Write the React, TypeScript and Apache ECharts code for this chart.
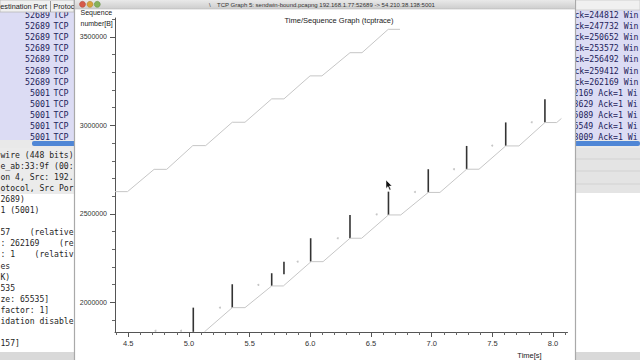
import React, { useEffect, useRef } from "react";
import * as echarts from "echarts";

// ---- chart data (time [s], sequence number [B]) ----
const windowLine: [number, number][] = [
  [4.391, 2626000], [4.494, 2626000], [4.713, 2752000], [4.817, 2752000],
  [5.032, 2886000], [5.138, 2886000], [5.357, 3018000], [5.462, 3018000],
  [5.682, 3150000], [5.783, 3150000], [5.998, 3280000], [6.096, 3280000],
  [6.327, 3411000], [6.426, 3411000], [6.642, 3543000], [6.739, 3543000],
];
const ackLine: [number, number][] = [
  [5.128, 1834000], [5.357, 1970600], [5.462, 1970600], [5.682, 2093200],
  [5.778, 2093200], [6.006, 2230500], [6.105, 2230500], [6.327, 2362700],
  [6.423, 2362700], [6.644, 2494300], [6.745, 2494300], [6.972, 2621500],
  [7.068, 2621500], [7.288, 2752600], [7.39, 2752600], [7.61, 2884200],
  [7.719, 2884200], [7.933, 3016400], [8.03, 3016400], [8.069, 3039500],
];
// [time, seqStart, seqEnd]
const segments: [number, number, number][] = [
  [5.036, 1834000, 1970600], [5.357, 1970600, 2102800], [5.682, 2093200, 2165000],
  [5.783, 2159300, 2230500], [6.003, 2230500, 2362700], [6.327, 2362700, 2494300],
  [6.644, 2494300, 2626000], [6.972, 2621500, 2752600], [7.288, 2752600, 2884200],
  [7.61, 2884200, 3017000], [7.933, 3016400, 3148000],
];
const sackDots: [number, number][] = [
  [4.725, 1840000], [4.935, 1840000], [5.256, 1970600], [5.572, 2099000],
  [5.896, 2230500], [6.226, 2362700], [6.547, 2498000], [6.862, 2624000],
  [7.184, 2752600], [7.499, 2886000], [7.824, 3018000],
];
const xMajor = [4.5, 5.0, 5.5, 6.0, 6.5, 7.0, 7.5, 8.0];
const yMajor = [2000000, 2500000, 3000000, 3500000];
const xMinor = [4.4, 4.6, 4.7, 4.8, 4.9, 5.1, 5.2, 5.3, 5.4, 5.6, 5.7, 5.8, 5.9, 6.1, 6.2, 6.3, 6.4, 6.6, 6.7, 6.8, 6.9, 7.1, 7.2, 7.3, 7.4, 7.6, 7.7, 7.8, 7.9, 8.1];
const yMinor = [1900000, 2100000, 2200000, 2300000, 2400000, 2600000, 2700000, 2800000, 2900000, 3100000, 3200000, 3300000, 3400000, 3600000];

// ---- background (Wireshark window) texts ----
const leftPorts = ["52689", "52689", "52689", "52689", "52689", "52689", "52689", "5001", "5001", "5001", "5001", "5001"];
const rightRows = [
  "Ack=244812 Win", "Ack=247732 Win", "Ack=250652 Win",
  "Ack=253572 Win", "Ack=256492 Win", "Ack=259412 Win",
  "Ack=262169 Win", "Seq=262169 Ack=1 Wi", "Seq=263629 Ack=1 Wi",
  "Seq=265089 Ack=1 Wi", "Seq=266549 Ack=1 Wi", "Seq=268009 Ack=1 Wi",
];
const detailLines = [
  "wire (448 bits)", "e_ab:33:9f (00:", "on 4, Src: 192.", "otocol, Src Por",
  "2689)", "1 (5001)", "", "57    (relative", ": 262169    (re", ": 1    (relativ",
  "es", "K)", "535", "ze: 65535]", "factor: 1]", "idation disable", "", "157]",
];
const windowTitle = "TCP Graph 5: sendwin-bound.pcapng 192.168.1.77:52689 -> 54.210.38.138:5001";

const MONO = "DejaVu Sans Mono";
const SANS = "Liberation Sans";

function buildGraphics(): any[] {
  const g: any[] = [];
  // packet list backgrounds
  g.push({ type: "rect", z: -30, shape: { x: 0, y: 0, width: 74, height: 141 }, style: { fill: "#dcdcf4" } });
  g.push({ type: "rect", z: -30, shape: { x: 575, y: 0, width: 65, height: 141 }, style: { fill: "#dcdcf4" } });
  leftPorts.forEach((p, i) => {
    const y = 15 + 11.1 * i;
    g.push({ type: "text", z: -29, x: 50, y, style: { text: p, font: `8.3px '${MONO}'`, fill: "#23235a", align: "right", verticalAlign: "middle" } });
    g.push({ type: "text", z: -29, x: 53.5, y, style: { text: "TCP", font: `8.3px '${MONO}'`, fill: "#23235a", align: "left", verticalAlign: "middle" } });
  });
  rightRows.forEach((r, i) => {
    const y = 15 + 11.1 * i;
    const x = r.startsWith("Seq") ? 544 : 569.5;
    g.push({ type: "text", z: -29, x, y, style: { text: r, font: `8.2px '${MONO}'`, fill: "#23235a", align: "left", verticalAlign: "middle" } });
  });
  // headers
  g.push({ type: "rect", z: -28, shape: { x: 0, y: 0, width: 74, height: 12 }, style: { fill: "#f0f0f0", stroke: "#b8b8b8", lineWidth: 0.8 } });
  g.push({ type: "rect", z: -28, shape: { x: 575, y: 0, width: 65, height: 10 }, style: { fill: "#f0f0f0", stroke: "#c8c8c8", lineWidth: 0.8 } });
  g.push({ type: "text", z: -27, x: 0.3, y: 6.5, style: { text: "estination Port", font: `7.3px '${SANS}'`, fill: "#222", verticalAlign: "middle" } });
  g.push({ type: "line", z: -27, shape: { x1: 50.5, y1: 1, x2: 50.5, y2: 12 }, style: { stroke: "#999", lineWidth: 1 } });
  g.push({ type: "text", z: -27, x: 53.3, y: 6.5, style: { text: "Protoc", font: `7.3px '${SANS}'`, fill: "#222", verticalAlign: "middle" } });
  // scroll bar band
  g.push({ type: "rect", z: -28, shape: { x: 0, y: 140, width: 640, height: 8 }, style: { fill: "#e9e9e9" } });
  g.push({ type: "rect", z: -27, shape: { x: 32, y: 141, width: 608, height: 5, r: 2 }, style: { fill: "#4f86d6" } });
  // detail pane left
  g.push({ type: "rect", z: -28, shape: { x: 0, y: 148, width: 74, height: 205 }, style: { fill: "#ffffff" } });
  g.push({ type: "rect", z: -28, shape: { x: 0, y: 148, width: 74, height: 46 }, style: { fill: "#ebebeb" } });
  detailLines.forEach((t, i) => {
    if (!t) return;
    g.push({ type: "text", z: -27, x: 0.5, y: 155 + 11.05 * i, style: { text: t, font: `8.1px '${MONO}'`, fill: "#1e1e1e", verticalAlign: "middle" } });
  });
  g.push({ type: "rect", z: -28, shape: { x: 0, y: 352, width: 640, height: 8 }, style: { fill: "#d9d9d9" } });
  // right pane
  g.push({ type: "rect", z: -28, shape: { x: 575, y: 148, width: 65, height: 45 }, style: { fill: "#e4e4e4" } });
  g.push({ type: "line", z: -27, shape: { x1: 575, y1: 159, x2: 640, y2: 159 }, style: { stroke: "#d2d2d2", lineWidth: 1 } });
  g.push({ type: "line", z: -27, shape: { x1: 575, y1: 171, x2: 640, y2: 171 }, style: { stroke: "#d2d2d2", lineWidth: 1 } });
  g.push({ type: "line", z: -27, shape: { x1: 575, y1: 184, x2: 640, y2: 184 }, style: { stroke: "#d2d2d2", lineWidth: 1 } });
  g.push({ type: "rect", z: -28, shape: { x: 575, y: 193, width: 65, height: 159 }, style: { fill: "#ffffff" } });

  // TCP graph window
  g.push({ type: "rect", z: -20, shape: { x: 74.5, y: -1, width: 501, height: 363 }, style: { fill: "#ffffff", stroke: "#a9a9a9", lineWidth: 1.2 } });
  g.push({
    type: "rect", z: 5, shape: { x: 75, y: 0, width: 500, height: 9 },
    style: { fill: new echarts.graphic.LinearGradient(0, 0, 0, 1, [{ offset: 0, color: "#e9e9e9" }, { offset: 1, color: "#cdcdcd" }]) },
  });
  g.push({ type: "line", z: 5, shape: { x1: 75, y1: 9, x2: 575, y2: 9 }, style: { stroke: "#b9b9b9", lineWidth: 0.6 } });
  g.push({ type: "circle", z: 6, shape: { cx: 82.5, cy: 4.3, r: 3 }, style: { fill: "#d65a4a", stroke: "#a84236", lineWidth: 0.5 } });
  g.push({ type: "circle", z: 6, shape: { cx: 90, cy: 4.3, r: 3 }, style: { fill: "#d8a23c", stroke: "#a87a28", lineWidth: 0.5 } });
  g.push({ type: "circle", z: 6, shape: { cx: 97.3, cy: 4.3, r: 3 }, style: { fill: "#86b25a", stroke: "#5f8a3c", lineWidth: 0.5 } });
  g.push({ type: "text", z: 6, x: 209, y: 4.6, style: { text: "\\", font: `6px '${SANS}'`, fill: "#444", verticalAlign: "middle" } });
  g.push({ type: "text", z: 6, x: 326, y: 4.6, style: { text: windowTitle, font: `6px '${SANS}'`, fill: "#333", align: "center", verticalAlign: "middle" } });

  // chart texts
  g.push({ type: "text", z: 6, x: 339, y: 20.5, style: { text: "Time/Sequence Graph (tcptrace)", font: `7.5px '${SANS}'`, fill: "#222", align: "center", verticalAlign: "middle" } });
  g.push({ type: "text", z: 6, x: 80.5, y: 12.3, style: { text: "Sequence", font: `7px '${SANS}'`, fill: "#222", verticalAlign: "middle" } });
  g.push({ type: "text", z: 6, x: 80.5, y: 23.3, style: { text: "number[B]", font: `7px '${SANS}'`, fill: "#222", verticalAlign: "middle" } });
  g.push({ type: "text", z: 6, x: 529.5, y: 355.5, style: { text: "Time[s]", font: `7.5px '${SANS}'`, fill: "#222", align: "center", verticalAlign: "middle" } });

  // mouse cursor
  g.push({
    type: "polygon", z: 7,
    shape: { points: [[386, 180], [386, 188.5], [388, 186.6], [389.6, 190.2], [390.9, 189.6], [389.4, 186.1], [392, 186]] },
    style: { fill: "#111", stroke: "#fff", lineWidth: 0.5 },
  });
  return g;
}

export default function App() {
  const ref = useRef<HTMLDivElement>(null);
  useEffect(() => {
    if (!ref.current) return;
    const chart = echarts.init(ref.current, undefined, { renderer: "svg" });
    const gridBox = { left: 115, top: 18, right: 72.5, bottom: 28 };
    const xMin = 4.391, xMax = 8.119, yMin = 1833000, yMax = 3607000;
    chart.setOption({
      animation: false,
      backgroundColor: "#ffffff",
      grid: [{ ...gridBox }, { ...gridBox }],
      xAxis: [
        {
          type: "value", gridIndex: 0, min: xMin, max: xMax,
          axisLine: { show: true, lineStyle: { color: "#555", width: 1 } },
          axisTick: { show: true, customValues: xMajor, length: 5, lineStyle: { color: "#555" } },
          axisLabel: { customValues: xMajor, formatter: (v: number) => v.toFixed(1), fontSize: 7.5, color: "#333", margin: 7, fontFamily: SANS },
          splitLine: { show: false },
        },
        {
          type: "value", gridIndex: 1, min: xMin, max: xMax,
          axisLine: { show: false },
          axisTick: { show: true, customValues: xMinor, length: 3, lineStyle: { color: "#666" } },
          axisLabel: { show: false },
          splitLine: { show: false },
        },
      ],
      yAxis: [
        {
          type: "value", gridIndex: 0, min: yMin, max: yMax,
          axisLine: { show: true, lineStyle: { color: "#555", width: 1 } },
          axisTick: { show: true, customValues: yMajor, length: 5, lineStyle: { color: "#555" } },
          axisLabel: { customValues: yMajor, formatter: (v: number) => String(v), fontSize: 7, color: "#333", margin: 8, fontFamily: SANS },
          splitLine: { show: false },
        },
        {
          type: "value", gridIndex: 1, min: yMin, max: yMax,
          axisLine: { show: false },
          axisTick: { show: true, customValues: yMinor, length: 3, lineStyle: { color: "#666" } },
          axisLabel: { show: false },
          splitLine: { show: false },
        },
      ],
      graphic: { elements: buildGraphics() },
      series: [
        {
          type: "line", name: "window", xAxisIndex: 0, yAxisIndex: 0, data: windowLine,
          showSymbol: false, symbol: "none", lineStyle: { color: "#c6c6c6", width: 1 }, silent: true,
        },
        {
          type: "line", name: "ack", xAxisIndex: 0, yAxisIndex: 0, data: ackLine,
          showSymbol: false, symbol: "none", lineStyle: { color: "#c6c6c6", width: 1 }, silent: true,
        },
        {
          type: "scatter", name: "sack", xAxisIndex: 0, yAxisIndex: 0, data: sackDots,
          symbolSize: 2, itemStyle: { color: "#b8b8b8" }, silent: true,
        },
        {
          type: "custom", name: "segments", xAxisIndex: 0, yAxisIndex: 0, data: segments,
          encode: { x: 0, y: [1, 2] }, silent: true,
          renderItem: (_params: any, api: any) => {
            const p1 = api.coord([api.value(0), api.value(1)]);
            const p2 = api.coord([api.value(0), api.value(2)]);
            return {
              type: "line",
              shape: { x1: p1[0], y1: p1[1], x2: p2[0], y2: p2[1] },
              style: { stroke: "#333333", lineWidth: 1.6 },
            };
          },
        },
      ],
    });
    return () => chart.dispose();
  }, []);
  return (
    <div
      ref={ref}
      style={{ position: "fixed", left: 0, top: 0, width: "640px", height: "360px" }}
    />
  );
}
